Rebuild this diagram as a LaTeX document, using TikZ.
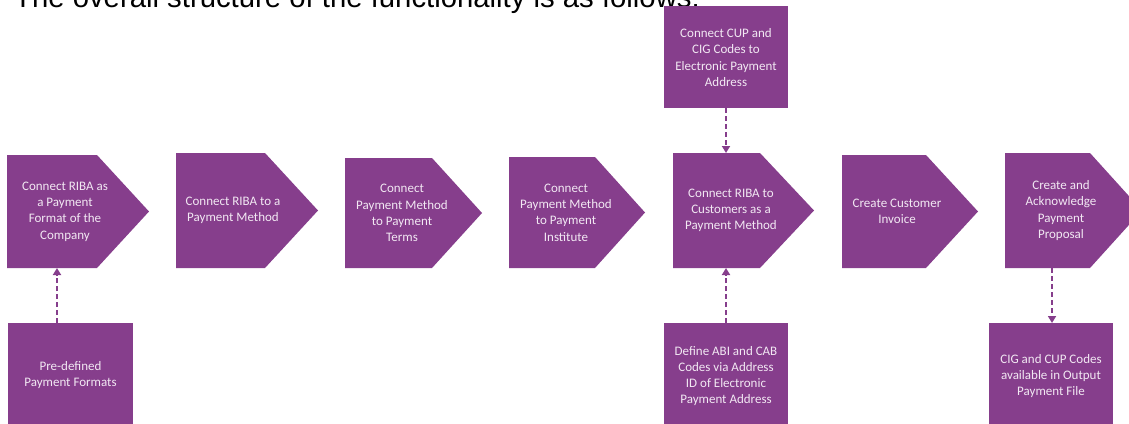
\documentclass[tikz,border=0pt]{standalone}
\usepackage{fontspec}
\setmainfont{Carlito}
\newfontfamily\headfont{Liberation Sans}
\usetikzlibrary{arrows.meta}
\definecolor{procpurple}{HTML}{863E8C}
\definecolor{proctext}{HTML}{F2E8F3}
\begin{document}
\begin{tikzpicture}[x=1pt,y=-1pt,
  proc/.style={fill=procpurple},
  txt/.style={text=proctext, font=\fontsize{13}{16.3}\selectfont, align=center, inner sep=0pt},
  link/.style={draw=procpurple, line width=1.8pt, dash pattern=on 5pt off 3pt,
    -{Triangle[length=7pt,width=8pt]}, shorten >=0pt}]
\useasboundingbox (0,0) rectangle (1129,423);
\clip (0,0) rectangle (1129,423);
% heading (cut off at top)
\node[anchor=base west, inner sep=0pt, font=\headfont\fontsize{29.3}{32}\selectfont] (head) at (14,7) {The overall structure of the functionality is as follows:};
% process arrows
\fill[proc] (7,155) -- (97,155) -- (149,211.5) -- (97,268) -- (7,268) -- cycle;
\fill[proc] (176,153) -- (265,153) -- (318,210.5) -- (265,268) -- (176,268) -- cycle;
\fill[proc] (345,158) -- (432,158) -- (482,213) -- (432,268) -- (345,268) -- cycle;
\fill[proc] (509,157) -- (595,157) -- (645,212.5) -- (595,268) -- (509,268) -- cycle;
\fill[proc] (673,153) -- (760,153) -- (814,210.5) -- (760,268) -- (673,268) -- cycle;
\fill[proc] (842,155) -- (926,155) -- (978,211.5) -- (926,268) -- (842,268) -- cycle;
\fill[proc] (1005,153) -- (1090,153) -- (1142,210.5) -- (1090,268) -- (1005,268) -- cycle;
\node[txt] (p1) at (65,211.5) {Connect RIBA as\\a Payment\\Format of the\\Company};
\node[txt] (p2) at (233,210.5) {Connect RIBA to a\\Payment Method};
\node[txt] (p3) at (402,213) {Connect\\Payment Method\\to Payment\\Terms};
\node[txt] (p4) at (566,212.5) {Connect\\Payment Method\\to Payment\\Institute};
\node[txt] (p5) at (731,210.5) {Connect RIBA to\\Customers as a\\Payment Method};
\node[txt] (p6) at (897,211.5) {Create Customer\\Invoice};
\node[txt] (p7) at (1061,210.5) {Create and\\Acknowledge\\Payment\\Proposal};
% side boxes
\fill[proc] (664,6) rectangle (788,108);
\fill[proc] (8,323) rectangle (133,430);
\fill[proc] (664,323) rectangle (788,430);
\fill[proc] (989,323) rectangle (1113,430);
\node[txt] (s1) at (726,57.5) {Connect CUP and\\CIG Codes to\\Electronic Payment\\Address};
\node[txt] (s2) at (70.5,375) {Pre-defined\\Payment Formats};
\node[txt] (s3) at (726,376) {Define ABI and CAB\\Codes via Address\\ID of Electronic\\Payment Address};
\node[txt] (s4) at (1051,376) {CIG and CUP Codes\\available in Output\\Payment File};
% connector end points
\coordinate (s1b) at (726,108);
\coordinate (p5t) at (726,153);
\coordinate (s2t) at (57,323);
\coordinate (p1b) at (57,268);
\coordinate (s3t) at (726,323);
\coordinate (p5b) at (726,268);
\coordinate (p7b) at (1052,268);
\coordinate (s4t) at (1052,323);
\draw[link] (s1b) -- (p5t);
\draw[link] (s2t) -- (p1b);
\draw[link] (s3t) -- (p5b);
\draw[link] (p7b) -- (s4t);
\end{tikzpicture}
\end{document}
